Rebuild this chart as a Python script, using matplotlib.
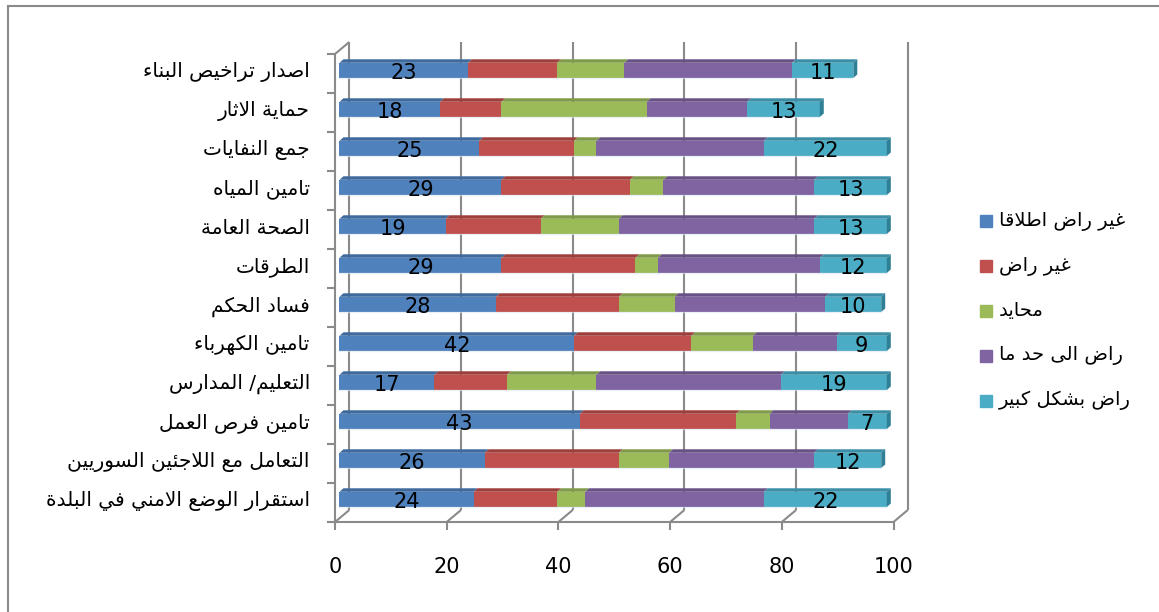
import numpy as np
import matplotlib.pyplot as plt
from matplotlib.patches import Polygon, Rectangle
from matplotlib.lines import Line2D

# rows, top to bottom
categories = [
    "اصدار تراخيص البناء",
    "حماية الاثار",
    "جمع النفايات",
    "تامين المياه",
    "الصحة العامة",
    "الطرقات",
    "فساد الحكم",
    "تامين الكهرباء",
    "التعليم/ المدارس",
    "تامين فرص العمل",
    "التعامل مع اللاجئين السوريين",
    "استقرار الوضع الامني في البلدة",
]
not_at_all = [23, 18, 25, 29, 19, 29, 28, 42, 17, 43, 26, 24]
not_satisfied = [16, 11, 17, 23, 17, 24, 22, 21, 13, 28, 24, 15]
neutral = [12, 26, 4, 6, 14, 4, 10, 11, 16, 6, 9, 5]
somewhat = [30, 18, 30, 27, 35, 29, 27, 15, 33, 14, 26, 32]
very = [11, 13, 22, 13, 13, 12, 10, 9, 19, 7, 12, 22]
series_names = ["غير راض اطلاقا", "غير راض", "محايد", "راض الى حد ما", "راض بشكل كبير"]
x_ticks = [0, 20, 40, 60, 80, 100]

colors = ["#4F81BD", "#C0504D", "#9BBB59", "#8064A2", "#4BACC6"]
tops = ["#3E6A9E", "#9E3F3C", "#7F9A48", "#685285", "#3A8FA6"]
cap = "#2F7F95"
grid = "#8A8A8A"

# minimal arabic shaping (no reshaper lib available): presentation forms + reverse
FORMS = {
    'ء': (0xFE80, 0), 'آ': (0xFE81, 2), 'أ': (0xFE83, 2), 'ؤ': (0xFE85, 2), 'إ': (0xFE87, 2),
    'ئ': (0xFE89, 4), 'ا': (0xFE8D, 2), 'ب': (0xFE8F, 4), 'ة': (0xFE93, 2), 'ت': (0xFE95, 4),
    'ث': (0xFE99, 4), 'ج': (0xFE9D, 4), 'ح': (0xFEA1, 4), 'خ': (0xFEA5, 4), 'د': (0xFEA9, 2),
    'ذ': (0xFEAB, 2), 'ر': (0xFEAD, 2), 'ز': (0xFEAF, 2), 'س': (0xFEB1, 4), 'ش': (0xFEB5, 4),
    'ص': (0xFEB9, 4), 'ض': (0xFEBD, 4), 'ط': (0xFEC1, 4), 'ظ': (0xFEC5, 4), 'ع': (0xFEC9, 4),
    'غ': (0xFECD, 4), 'ف': (0xFED1, 4), 'ق': (0xFED5, 4), 'ك': (0xFED9, 4), 'ل': (0xFEDD, 4),
    'م': (0xFEE1, 4), 'ن': (0xFEE5, 4), 'ه': (0xFEE9, 4), 'و': (0xFEED, 2), 'ى': (0xFEEF, 2),
    'ي': (0xFEF1, 4),
}
LAM_ALEF = {'ا': 0xFEFB, 'آ': 0xFEF5, 'أ': 0xFEF7, 'إ': 0xFEF9}


def shape(s):
    res = []
    i = 0
    n = len(s)
    while i < n:
        c = s[i]
        if c not in FORMS:
            res.append(c)
            i += 1
            continue
        prev = i > 0 and s[i - 1] in FORMS and FORMS[s[i - 1]][1] == 4
        if c == 'ل' and i + 1 < n and s[i + 1] in LAM_ALEF:
            res.append(chr(LAM_ALEF[s[i + 1]] + (1 if prev else 0)))
            i += 2
            continue
        base, kind = FORMS[c]
        nxt = kind == 4 and i + 1 < n and s[i + 1] in FORMS and FORMS[s[i + 1]][1] > 0
        if kind == 0:
            f = 0
        elif kind == 2:
            f = 1 if prev else 0
        else:
            f = {(False, False): 0, (True, False): 1, (False, True): 2, (True, True): 3}[(prev, nxt)]
        res.append(chr(base + f))
        i += 1
    return "".join(reversed(res))


W, H = 1159, 612
fig = plt.figure(figsize=(W / 100, H / 100), dpi=100)
ax = fig.add_axes([335 / W, 90 / H, (893.5 - 335) / W, (522 - 54) / H])
ax.set_xlim(0, 100)
ax.set_ylim(11.5, -0.5)
ax.axis("off")

# depth of the 3d box, in data units
DX, DY = 14.3 / 5.585, 12 / 39.0
kw = dict(color=grid, lw=1.5, clip_on=False, solid_capstyle="butt")

# back wall gridlines + floor diagonals
for x in x_ticks:
    ax.plot([x + DX, x + DX], [11.5 - DY, -0.5 - DY], **kw)
    ax.plot([x, x + DX], [11.5, 11.5 - DY], **kw)
    ax.plot([x, x], [11.5, 11.7], **kw)
    ax.text(x, 12.65, str(x), ha="center", va="center", fontsize=15, color="#000000")
ax.plot([0, 100], [11.5, 11.5], **kw)
ax.plot([0, 0], [11.5, -0.5], **kw)
ax.plot([0, DX], [-0.5, -0.5 - DY], **kw)
for b in np.arange(-0.5, 12, 1.0):
    ax.plot([-1.45, 0], [b, b], **kw)

# stacked 3d-ish bars
data = [not_at_all, not_satisfied, neutral, somewhat, very]
y = np.arange(len(categories)) - 0.08
bh = 0.39
x0 = 0.8
ddx, ddy = 4 / 5.585, 3.5 / 39.0
left = np.full(len(categories), x0, dtype=float)
for k, vals in enumerate(data):
    vals = np.array(vals, dtype=float)
    ax.barh(y, vals, left=left, height=bh, color=colors[k], zorder=3)
    for yi, l, v in zip(y, left, vals):
        t = yi - bh / 2
        ax.add_patch(Polygon([(l, t), (l + v, t), (l + v + ddx, t - ddy), (l + ddx, t - ddy)],
                             closed=True, color=tops[k], lw=0, zorder=3))
        ax.plot([l, l + v], [yi + bh / 2, yi + bh / 2], color="#DDE7F0", lw=1, alpha=0.6, zorder=4)
    left = left + vals
for yi, l in zip(y, left):
    t, b = yi - bh / 2, yi + bh / 2
    ax.add_patch(Polygon([(l, t), (l, b), (l + ddx, b - ddy), (l + ddx, t - ddy)],
                         closed=True, color=cap, lw=0, zorder=3))

# value labels on first and last series only
for i in range(len(categories)):
    ax.text(x0 + not_at_all[i] / 2, y[i] + 0.06, str(not_at_all[i]), ha="center", va="center",
            fontsize=15, color="#000000", zorder=5)
    ax.text(left[i] - very[i] / 2, y[i] + 0.06, str(very[i]), ha="center", va="center",
            fontsize=15, color="#000000", zorder=5)
    ax.text(-4.5, i - 0.03, shape(categories[i]), ha="right", va="center",
            fontsize=14.5, color="#000000", family="DejaVu Sans")

# legend
for k, name in enumerate(series_names):
    cy = [221, 266, 310.5, 355.5, 400.5][k]
    fig.patches.append(Rectangle((980 / W, 1 - (cy + 6) / H), 12 / W, 12 / H,
                                 transform=fig.transFigure, color=colors[k]))
    fig.text(999 / W, 1 - cy / H, shape(name), ha="left", va="center", fontsize=14,
             color="#000000", family="DejaVu Sans")

# outer chart border
fig.add_artist(Line2D([8 / W, 1], [1 - 6 / H, 1 - 6 / H], transform=fig.transFigure, color=grid, lw=1.5))
fig.add_artist(Line2D([8 / W, 8 / W], [0, 1 - 6 / H], transform=fig.transFigure, color=grid, lw=1.5))

fig.savefig("out.png", dpi=100)
